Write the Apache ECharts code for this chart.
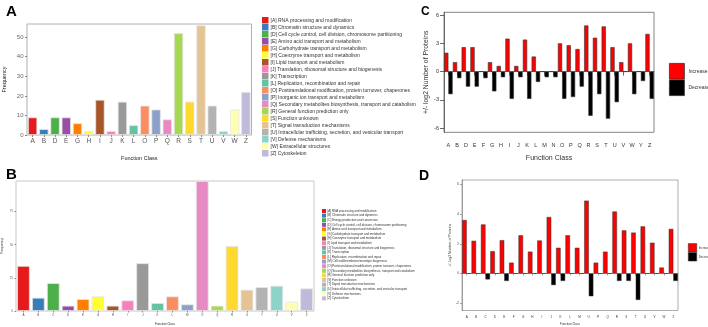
<!DOCTYPE html>
<html>
<head>
<meta charset="utf-8">
<script src="https://cdn.jsdelivr.net/npm/echarts@6/dist/echarts.min.js"></script>
<style>
  html, body { margin: 0; padding: 0; background: #fff; }
  #main { width: 708px; height: 327px; }
</style>
</head>
<body>
<div id="main"></div>
<script>
// COG class descriptions
const cogDesc = {
  A: 'RNA processing and modification',
  B: 'Chromatin structure and dynamics',
  C: 'Energy production and conversion',
  D: 'Cell cycle control, cell division, chromosome partitioning',
  E: 'Amino acid transport and metabolism',
  G: 'Carbohydrate transport and metabolism',
  H: 'Coenzyme transport and metabolism',
  I: 'Lipid transport and metabolism',
  J: 'Translation, ribosomal structure and biogenesis',
  K: 'Transcription',
  L: 'Replication, recombination and repair',
  M: 'Cell wall/membrane/envelope biogenesis',
  O: 'Posttranslational modification, protein turnover, chaperones',
  P: 'Inorganic ion transport and metabolism',
  Q: 'Secondary metabolites biosynthesis, transport and catabolism',
  R: 'General function prediction only',
  S: 'Function unknown',
  T: 'Signal transduction mechanisms',
  U: 'Intracellular trafficking, secretion, and vesicular transport',
  V: 'Defense mechanisms',
  W: 'Extracellular structures',
  Z: 'Cytoskeleton'
}

// panel A
const catsA = ['A', 'B', 'D', 'E', 'G', 'H', 'I', 'J', 'K', 'L', 'O', 'P', 'Q', 'R', 'S', 'T', 'U', 'V', 'W', 'Z']
const freqA = [9, 3, 9, 9, 6, 2, 18, 2, 17, 5, 15, 13, 8, 52, 17, 56, 15, 2, 13, 22]
const ticksA = [0, 10, 20, 30, 40, 50]

// panel B
const catsB = ['A', 'B', 'C', 'D', 'E', 'G', 'H', 'I', 'J', 'K', 'L', 'M', 'O', 'Q', 'R', 'S', 'T', 'U', 'V', 'Z']
const freqB = [34, 10, 21, 4, 9, 11, 4, 8, 36, 6, 11, 5, 98, 4, 49, 16, 18, 19, 7, 17]
const ticksB = [0, 25, 50, 75]

// panel C (log2 counts, up / down)
const catsC = ['A', 'B', 'D', 'E', 'F', 'G', 'H', 'I', 'J', 'K', 'L', 'M', 'N', 'O', 'P', 'Q', 'R', 'S', 'T', 'U', 'V', 'W', 'Y', 'Z']
const upC = [2.0, 1.0, 2.6, 2.6, 0, 1.0, 0.6, 3.5, 0.6, 3.4, 1.6, 0, 0, 3.0, 2.8, 2.4, 4.9, 3.6, 4.8, 2.6, 1.0, 3.0, 0, 4.0]
const downC = [-2.4, -0.7, -1.6, -1.6, -0.7, -2.1, -0.6, -2.9, -0.6, -2.9, -1.1, -0.6, -0.6, -2.9, -2.7, -1.6, -4.7, -2.4, -5.0, -3.25, 0, -2.4, -1.0, -2.9]
const ticksC = [-6, -3, 0, 3, 6]

// panel D
const catsD = ['A', 'B', 'C', 'D', 'E', 'F', 'G', 'H', 'I', 'J', 'K', 'L', 'M', 'O', 'P', 'Q', 'R', 'S', 'T', 'U', 'V', 'W', 'Z']
const upD = [3.6, 2.2, 3.3, 1.5, 2.24, 0.73, 2.57, 1.47, 2.22, 3.8, 1.73, 2.57, 1.73, 4.9, 0.73, 1.47, 4.17, 2.9, 2.75, 3.17, 2.07, 0.4, 3.0]
const downD = [0, 0, -0.4, 0, -0.5, 0, 0, 0, 0, -0.78, -0.5, 0, 0, -1.53, 0, 0, -0.5, -0.5, -1.78, 0, 0, 0, -0.5]
const ticksD = [-2, 0, 2, 4, 6]

const palette = [
  '#E41A1C', '#377EB8', '#4DAF4A', '#984EA3', '#FF7F00', '#FFFF33', '#A65628', '#F781BF', '#999999',
  '#66C2A5', '#FC8D62', '#8DA0CB', '#E78AC3', '#A6D854', '#FFD92F', '#E5C494', '#B3B3B3',
  '#8DD3C7', '#FFFFB3', '#BEBADA'
]

const FONT = 'Liberation Sans'
const chart = echarts.init(document.getElementById('main'), null, { renderer: 'canvas' })

// one series per class so the legend shows every class colour
function classSeries(prefix, cats, vals, axis, barWidth) {
  return cats.map((c, i) => ({
    type: 'bar',
    name: prefix + '[' + c + '] ' + cogDesc[c],
    xAxisIndex: axis,
    yAxisIndex: axis,
    stack: 'freq' + axis,
    barWidth: barWidth,
    silent: true,
    itemStyle: { color: palette[i], borderColor: '#e6e6e6', borderWidth: 0.8 },
    data: cats.map((_, j) => (j === i ? vals[i] : '-'))
  }))
}

function updownSeries(prefix, up, down, axis, bw) {
  return [
    {
      type: 'bar', name: prefix + 'Increase', xAxisIndex: axis, yAxisIndex: axis,
      barGap: '0%', barCategoryGap: '3%', silent: true,
      itemStyle: { color: '#FF0000', borderColor: '#333', borderWidth: bw },
      data: up
    },
    {
      type: 'bar', name: prefix + 'Decrease', xAxisIndex: axis, yAxisIndex: axis,
      barGap: '0%', barCategoryGap: '3%', silent: true,
      itemStyle: { color: '#000000', borderColor: '#333', borderWidth: bw },
      data: down
    }
  ]
}

const strip = n => n.slice(2)

const option = {
  animation: false,
  textStyle: { fontFamily: FONT },
  title: [
    { text: 'A', left: 1, top: -1, textStyle: { fontSize: 15, fontWeight: 'bold', color: '#000', fontFamily: FONT } },
    { text: 'B', left: 1, top: 162, textStyle: { fontSize: 15, fontWeight: 'bold', color: '#000', fontFamily: FONT } },
    { text: 'C', left: 416, top: 1, textStyle: { fontSize: 12, fontWeight: 'bold', color: '#000', fontFamily: FONT } },
    { text: 'D', left: 414, top: 164, textStyle: { fontSize: 14, fontWeight: 'bold', color: '#000', fontFamily: FONT } }
  ],
  grid: [
    { left: 25.5, top: 24, width: 226, height: 111, show: true, borderColor: '#b0b0b0', borderWidth: 1 },
    { left: 16, top: 181, width: 298, height: 130.7, show: true, borderColor: '#c8c8c8', borderWidth: 1 },
    { left: 444, top: 12.3, width: 210, height: 120, show: true, borderColor: '#666', borderWidth: 0.8 },
    { left: 462, top: 180, width: 216, height: 131.7, show: true, borderColor: '#777', borderWidth: 0.6 }
  ],
  legend: [
    {
      left: 257, top: 12, orient: 'vertical', icon: 'rect', itemWidth: 6.5, itemHeight: 6.5, itemGap: 0.5,
      selectedMode: false, formatter: strip,
      textStyle: { fontSize: 5, lineHeight: 6.5, color: '#333', fontFamily: FONT, padding: [0, 0, 0, -3] },
      itemStyle: { borderWidth: 0 },
      data: catsA.map(c => 'a:[' + c + '] ' + cogDesc[c])
    },
    {
      left: 317, top: 204, orient: 'vertical', icon: 'rect', itemWidth: 4, itemHeight: 4, itemGap: 0.6,
      selectedMode: false, formatter: strip,
      textStyle: { fontSize: 3, lineHeight: 4, color: '#333', fontFamily: FONT, padding: [0, 0, 0, -3.5] },
      itemStyle: { borderWidth: 0 },
      data: catsB.map(c => 'b:[' + c + '] ' + cogDesc[c])
    },
    {
      left: 664, top: 58, orient: 'vertical', icon: 'rect', itemWidth: 15, itemHeight: 15.7, itemGap: 0,
      selectedMode: false, formatter: strip,
      textStyle: { fontSize: 5, color: '#333', fontFamily: FONT, padding: [0, 0, 0, -1] },
      itemStyle: { borderColor: '#333', borderWidth: 0.8 },
      data: ['c:Increase', 'c:Decrease']
    },
    {
      left: 683, top: 238.3, orient: 'vertical', icon: 'rect', itemWidth: 8.4, itemHeight: 8.4, itemGap: 0,
      selectedMode: false, formatter: strip,
      textStyle: { fontSize: 3, color: '#333', fontFamily: FONT, padding: [0, 0, 0, -3] },
      itemStyle: { borderColor: '#333', borderWidth: 0.6 },
      data: ['d:Increase', 'd:Decrease']
    }
  ],
  xAxis: [
    {
      gridIndex: 0, type: 'category', data: catsA,
      name: 'Function Class', nameLocation: 'middle', nameGap: 20,
      nameTextStyle: { fontSize: 5.5, color: '#222' },
      axisLine: { show: false }, axisTick: { show: true, alignWithLabel: true, length: 2, lineStyle: { color: '#888' } },
      axisLabel: { interval: 0, fontSize: 6.5, color: '#555', margin: 2.5 }
    },
    {
      gridIndex: 1, type: 'category', data: catsB,
      name: 'Function Class', nameLocation: 'middle', nameGap: 12,
      nameTextStyle: { fontSize: 3, color: '#222' },
      axisLine: { show: false }, axisTick: { show: true, alignWithLabel: true, length: 1.5, lineStyle: { color: '#888' } },
      axisLabel: { interval: 0, fontSize: 3, color: '#555', margin: 2.5 }
    },
    {
      gridIndex: 2, type: 'category', data: catsC,
      name: 'Function Class', nameLocation: 'middle', nameGap: 22,
      nameTextStyle: { fontSize: 7, color: '#333' },
      axisLine: { show: true, lineStyle: { color: '#555', width: 0.8 } },
      axisTick: { show: true, alignWithLabel: true, interval: 0, length: 4, lineStyle: { color: '#444', width: 0.8 } },
      axisLabel: { interval: 0, fontSize: 5.5, color: '#333', margin: 10 }
    },
    {
      gridIndex: 3, type: 'category', data: catsD,
      name: 'Function Class', nameLocation: 'middle', nameGap: 12.5,
      nameTextStyle: { fontSize: 3, color: '#333' },
      axisLine: { show: true, lineStyle: { color: '#777', width: 0.6 } },
      axisTick: { show: true, alignWithLabel: true, interval: 0, length: 2, lineStyle: { color: '#555', width: 0.5 } },
      axisLabel: { interval: 0, fontSize: 3, color: '#333', margin: 5 }
    }
  ],
  yAxis: [
    {
      gridIndex: 0, type: 'value', min: 0, max: 56.7,
      name: 'Frequency', nameLocation: 'middle', nameGap: 20, nameRotate: 90,
      nameTextStyle: { fontSize: 5.5, color: '#222' },
      splitLine: { show: false }, axisLine: { show: false },
      axisTick: { show: true, length: 2, lineStyle: { color: '#888' }, customValues: ticksA },
      axisLabel: { fontSize: 6, color: '#666', margin: 3.5, customValues: ticksA }
    },
    {
      gridIndex: 1, type: 'value', min: 0, max: 98,
      name: 'Frequency', nameLocation: 'middle', nameGap: 12, nameRotate: 90,
      nameTextStyle: { fontSize: 3.3, color: '#222' },
      splitLine: { show: false }, axisLine: { show: false },
      axisTick: { show: true, length: 1.5, lineStyle: { color: '#888' }, customValues: ticksB },
      axisLabel: { fontSize: 3, color: '#666', margin: 3, customValues: ticksB }
    },
    {
      gridIndex: 2, type: 'value', min: -6.45, max: 6.3,
      name: '+/- log2 Number of Proteins', nameLocation: 'middle', nameGap: 14, nameRotate: 90,
      nameTextStyle: { fontSize: 6.8, color: '#333' },
      splitLine: { show: false },
      axisLine: { show: true, lineStyle: { color: '#555', width: 0.8 } },
      axisTick: { show: true, length: 4, lineStyle: { color: '#444', width: 0.8 }, customValues: ticksC },
      axisLabel: { fontSize: 5.5, color: '#333', margin: 5, customValues: ticksC }
    },
    {
      gridIndex: 3, type: 'value', min: -2.49, max: 6.29,
      name: '+/- log2 Number of Proteins', nameLocation: 'middle', nameGap: 10, nameRotate: 90,
      nameTextStyle: { fontSize: 3.5, color: '#333' },
      splitLine: { show: false },
      axisLine: { show: true, lineStyle: { color: '#777', width: 0.6 } },
      axisTick: { show: true, length: 2, lineStyle: { color: '#555', width: 0.5 }, customValues: ticksD },
      axisLabel: { fontSize: 3, color: '#333', margin: 3, customValues: ticksD }
    }
  ],
  series: [
    ...classSeries('a:', catsA, freqA, 0, '83%'),
    ...classSeries('b:', catsB, freqB, 1, '85%'),
    ...updownSeries('c:', upC, downC, 2, 0.6),
    ...updownSeries('d:', upD, downD, 3, 0.5)
  ]
}

chart.setOption(option)
</script>
</body>
</html>
